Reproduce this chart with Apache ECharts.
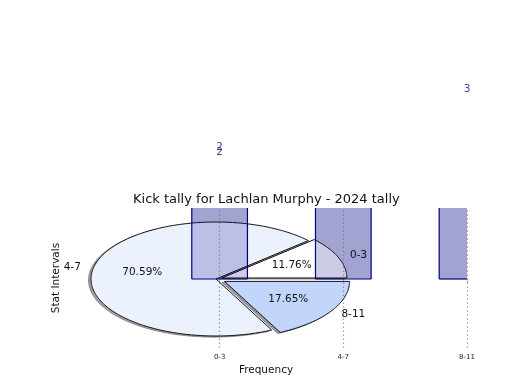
<!DOCTYPE html>
<html>
<head>
<meta charset="utf-8">
<script src="https://cdn.jsdelivr.net/npm/echarts@6/dist/echarts.min.js"></script>
<style>html,body{margin:0;padding:0;background:#fff}#c{width:520px;height:390px}</style>
</head>
<body>
<div id="c"></div>
<script>
// ---- data ----
const categories = ['0-3', '4-7', '8-11'];
const barValues = [2, 12, 3];
const pieValues = [2, 12, 3];
const pieExplode = [0.05, 0, 0.08];
const duplicateLabels = [[0, 2]];   // the 0-3 bar label is printed twice in the original
const titleText = 'Kick tally for Lachlan Murphy - 2024 tally';
const xAxisName = 'Frequency';
const yAxisName = 'Stat Intervals';

// ---- styles / layout ----
const FONT = 'DejaVu Sans';
const pieColors = ['#ffffff', '#ebf1fd', '#c2d6fc'];
const PIE = { cx: 216, cy: 279, rx: 125, ry: 57 };
const BAR_W = 0.45;
const barFill = 'rgba(0,0,128,0.2)';
const pieTotal = pieValues.reduce((a, b) => a + b, 0);

function sliceAngles(i) {
  let s = 0;
  for (let k = 0; k < i; k++) s += pieValues[k];
  const a0 = s / pieTotal * 2 * Math.PI;
  const a1 = (s + pieValues[i]) / pieTotal * 2 * Math.PI;
  return [a0, a1];
}
function slicePoints(i, dx, dy) {
  const [a0, a1] = sliceAngles(i);
  const mid = (a0 + a1) / 2;
  const e = pieExplode[i];
  const ox = PIE.cx + e * PIE.rx * Math.cos(mid) + dx;
  const oy = PIE.cy - e * PIE.ry * Math.sin(mid) + dy;
  const pts = [[ox, oy]];
  const n = Math.max(8, Math.ceil((a1 - a0) / 0.02));
  for (let k = 0; k <= n; k++) {
    const t = a0 + (a1 - a0) * k / n;
    pts.push([ox + PIE.rx * Math.cos(t), oy - PIE.ry * Math.sin(t)]);
  }
  return { pts, ox, oy, mid };
}

function barFillItem(params, api) {
  const x = api.value(0), v = api.value(1);
  const p1 = api.coord([x - BAR_W / 2, v]);
  const p2 = api.coord([x + BAR_W / 2, 0]);
  const cs = params.coordSys;
  const rect = echarts.graphic.clipRectByRect(
    { x: p1[0], y: p1[1], width: p2[0] - p1[0], height: p2[1] - p1[1] },
    { x: cs.x, y: cs.y, width: cs.width, height: cs.height });
  if (!rect) return null;
  return { type: 'rect', shape: rect, style: { fill: barFill } };
}

const chart = echarts.init(document.getElementById('c'), null, { renderer: 'canvas' });
const option = {
  animation: false,
  backgroundColor: '#ffffff',
  title: {
    text: titleText, left: 133, top: 193, padding: 0,
    textStyle: { fontFamily: FONT, fontSize: 13, fontWeight: 'normal', color: '#111' }
  },
  grid: { left: 65, right: 53, top: 208, bottom: 42, containLabel: false },
  xAxis: {
    type: 'value', min: -1.25, max: 2,
    name: xAxisName, nameLocation: 'middle', nameGap: 17,
    nameTextStyle: { fontFamily: FONT, fontSize: 10.5, color: '#111' },
    axisLine: { show: false },
    axisTick: { show: true, customValues: [0, 1, 2], length: 4, lineStyle: { color: '#b8b8b8', width: 1 } },
    axisLabel: { customValues: [0, 1, 2], formatter: v => categories[Math.round(v)], fontFamily: FONT, fontSize: 7, color: '#222', margin: 6 },
    splitLine: { show: false }
  },
  yAxis: {
    type: 'value', min: -1.104, max: 1.136,
    name: yAxisName, nameLocation: 'middle', nameGap: 3,
    nameTextStyle: { fontFamily: FONT, fontSize: 10.5, color: '#111' },
    axisLine: { show: false }, axisTick: { show: false }, axisLabel: { show: false }, splitLine: { show: false }
  },
  series: [
    {
      type: 'custom', name: 'layer1', z: 1, silent: true,
      data: barValues.map((v, i) => [i, v]),
      renderItem: barFillItem
    },
    {
      type: 'custom', name: 'pieShadow', coordinateSystem: 'none', z: 2, silent: true,
      data: pieValues,
      renderItem: function (params, api) {
        const i = params.dataIndex;
        const s = slicePoints(i, -2.5, 1.14);
        const c = echarts.color.parse(pieColors[i]);
        const col = 'rgba(' + Math.round(c[0] * 0.3) + ',' + Math.round(c[1] * 0.3) + ',' + Math.round(c[2] * 0.3) + ',0.5)';
        return { type: 'polygon', shape: { points: s.pts }, style: { fill: col, stroke: col, lineWidth: 1 } };
      }
    },
    {
      type: 'custom', name: 'pie', coordinateSystem: 'none', z: 3, silent: true,
      data: pieValues,
      renderItem: function (params, api) {
        const i = params.dataIndex;
        const s = slicePoints(i, 0, 0);
        const pct = (pieValues[i] / pieTotal * 100).toFixed(2) + '%';
        const pd = 0.6, ld = 1.1;
        const e = pieExplode[i];
        const cm = Math.cos(s.mid), sm = Math.sin(s.mid);
        const baseX = PIE.cx + e * PIE.rx * cm, baseY = PIE.cy - e * PIE.ry * sm;
        return {
          type: 'group',
          children: [
            { type: 'polygon', shape: { points: s.pts }, style: { fill: pieColors[i], stroke: '#111', lineWidth: 1, lineJoin: 'miter' } },
            { type: 'text', style: { text: pct, x: baseX + pd * PIE.rx * cm, y: baseY - pd * PIE.ry * sm, textAlign: 'center', textVerticalAlign: 'middle', font: '10.5px "DejaVu Sans"', fill: '#111' } },
            { type: 'text', style: { text: categories[i], x: baseX + ld * PIE.rx * cm, y: baseY - ld * PIE.ry * sm, textAlign: cm >= 0 ? 'left' : 'right', textVerticalAlign: 'middle', font: '10.5px "DejaVu Sans"', fill: '#111' } }
          ]
        };
      }
    },
    {
      type: 'custom', name: 'layer2', z: 4, silent: true,
      data: barValues.map((v, i) => [i, v]),
      renderItem: barFillItem,
      markLine: {
        silent: true, symbol: 'none', label: { show: false },
        lineStyle: { type: [1.5, 2.5], color: 'rgba(110,110,110,0.65)', width: 1.2 },
        data: categories.map((c, i) => ({ xAxis: i }))
      }
    },
    {
      type: 'custom', name: 'barEdges', z: 5, silent: true,
      data: barValues.map((v, i) => [i, v]),
      renderItem: function (params, api) {
        const cs = params.coordSys;
        const x = api.value(0), v = api.value(1);
        const l = api.coord([x - BAR_W / 2, v]);
        const r = api.coord([x + BAR_W / 2, 0]);
        const top = Math.max(l[1], cs.y), bot = Math.min(r[1], cs.y + cs.height);
        const xl = Math.max(l[0], cs.x), xr = Math.min(r[0], cs.x + cs.width);
        const st = { stroke: '#000080', lineWidth: 1.2 };
        const kids = [{ type: 'line', shape: { x1: xl, y1: bot, x2: xr, y2: bot }, style: st }];
        if (l[0] >= cs.x) kids.push({ type: 'line', shape: { x1: l[0], y1: top, x2: l[0], y2: bot }, style: st });
        if (r[0] <= cs.x + cs.width) kids.push({ type: 'line', shape: { x1: r[0], y1: top, x2: r[0], y2: bot }, style: st });
        return { type: 'group', children: kids };
      }
    },
    {
      type: 'scatter', name: 'barLabels', z: 6, clip: false, silent: true,
      symbolSize: 1, itemStyle: { color: 'rgba(0,0,0,0)' },
      data: barValues.map((v, i) => [i, v]),
      label: { show: true, position: 'inside', offset: [0, -2], formatter: p => String(p.value[1]), fontFamily: FONT, fontSize: 10.5, color: '#101080' }
    },
    {
      type: 'scatter', name: 'barLabelsDup', z: 6, clip: false, silent: true,
      symbolSize: 1, itemStyle: { color: 'rgba(0,0,0,0)' },
      data: duplicateLabels,
      label: { show: true, position: 'inside', offset: [0, -7], formatter: p => String(p.value[1]), fontFamily: FONT, fontSize: 10.5, color: '#101080' }
    }
  ]
};
chart.setOption(option);
</script>
</body>
</html>
